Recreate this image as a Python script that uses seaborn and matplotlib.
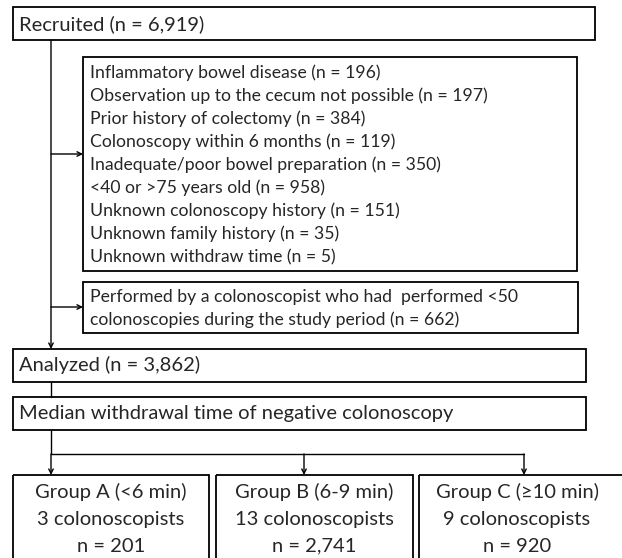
import matplotlib
matplotlib.use("Agg")
import matplotlib.pyplot as plt
import seaborn as sns
from matplotlib.patches import Rectangle

# flowchart content
recruited = "Recruited (n = 6,919)"
exclusions = [
    "Inflammatory bowel disease (n = 196)",
    "Observation up to the cecum not possible (n = 197)",
    "Prior history of colectomy (n = 384)",
    "Colonoscopy within 6 months (n = 119)",
    "Inadequate/poor bowel preparation (n = 350)",
    "<40 or >75 years old (n = 958)",
    "Unknown colonoscopy history (n = 151)",
    "Unknown family history (n = 35)",
    "Unknown withdraw time (n = 5)",
]
exclusion2 = ["Performed by a colonoscopist who had  performed <50",
              "colonoscopies during the study period (n = 662)"]
analyzed = "Analyzed (n = 3,862)"
median_label = "Median withdrawal time of negative colonoscopy"
groups = ["Group A (<6 min)", "Group B (6-9 min)", "Group C (\u226510 min)"]
colonoscopists = [3, 13, 9]
group_n = ["201", "2,741", "920"]

sns.set_style("white")
plt.rcParams['font.family'] = ['Lato', 'DejaVu Sans']

fig = plt.figure(figsize=(6.22, 5.58), dpi=100)
ax = fig.add_axes([0, 0, 1, 1])
ax.set_xlim(0, 622)
ax.set_ylim(558, 0)
ax.axis("off")

lw = 1.3
fs_small = 12.7
fs_big = 14.5


def box(x0, y0, x1, y1):
    ax.add_patch(Rectangle((x0, y0), x1 - x0, y1 - y0, fill=False,
                           edgecolor="black", linewidth=lw, clip_on=False))


def arrow(x0, y0, x1, y1):
    ax.annotate("", xy=(x1, y1), xytext=(x0, y0),
                arrowprops=dict(arrowstyle="->", color="black", lw=1.0,
                                shrinkA=0, shrinkB=0, mutation_scale=8))


# top box
box(13, 7, 595, 40)
ax.text(19, 24, recruited, fontsize=fs_big, va="center", ha="left")

# exclusion box 1
box(83, 57, 577, 271)
for i, t in enumerate(exclusions):
    ax.text(90, 73 + i * 23, t, fontsize=fs_small, va="center", ha="left")

# exclusion box 2
box(83, 282, 578, 333)
for i, t in enumerate(exclusion2):
    ax.text(90, 297 + i * 23, t, fontsize=fs_small, va="center", ha="left")

# main vertical line and side arrows
arrow(51, 40, 51, 349)
arrow(51, 154, 83, 154)
arrow(51, 307, 83, 307)

# analyzed
box(13, 349, 586, 382)
ax.text(19, 365, analyzed, fontsize=fs_big, va="center", ha="left")
ax.plot([51, 51], [382, 397], color="black", lw=1.0)

# median
box(13, 397, 586, 430)
ax.text(19, 413, median_label, fontsize=fs_big, va="center", ha="left")

# branches
gx = [(13, 209), (216, 413), (419, 630)]
arrow_x = [51, 304, 524]
ax.plot([51, 51], [430, 454], color="black", lw=1.0)
ax.plot([51, 524], [454, 454], color="black", lw=1.0)
for x in arrow_x:
    arrow(x, 454, x, 475)

for (x0, x1), g, c, n in zip(gx, groups, colonoscopists, group_n):
    box(x0, 475, x1, 575)
    cx = (x0 + 209 - 13 + x0) / 2 if x1 > 622 else (x0 + x1) / 2
    ax.text(cx, 492, g, fontsize=fs_big, va="center", ha="center")
    ax.text(cx, 519, f"{c} colonoscopists", fontsize=fs_big, va="center", ha="center")
    ax.text(cx, 546, f"n = {n}", fontsize=fs_big, va="center", ha="center")

fig.savefig("out.png", dpi=100)
